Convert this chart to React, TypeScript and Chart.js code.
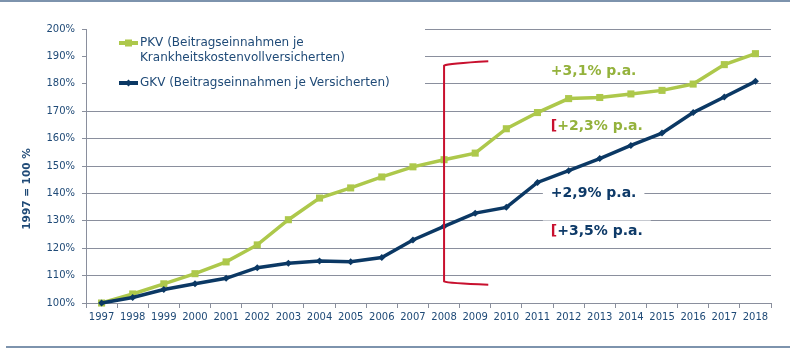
import React, { useEffect, useRef } from "react";
import { Chart, registerables } from "chart.js";

Chart.register(...registerables);

const YEARS = ["1997","1998","1999","2000","2001","2002","2003","2004","2005","2006","2007","2008","2009","2010","2011","2012","2013","2014","2015","2016","2017","2018"];
const PKV = [100,103.3,107,110.7,115,121.2,130.4,138.3,142,146,149.7,152.3,154.7,163.6,169.5,174.6,175,176.3,177.6,179.9,187,191];
const GKV = [100,102,104.9,107,109,112.9,114.5,115.3,115.1,116.6,123,128,132.8,134.9,144,148.3,152.7,157.5,162,169.5,175.2,180.9];
const Y_MIN = 100;
const Y_MAX = 200;
const Y_STEP = 10;
const PKV_LABEL = ["PKV (Beitragseinnahmen je", "Krankheitskostenvollversicherten)"];
const GKV_LABEL = ["GKV (Beitragseinnahmen je Versicherten)"];
const Y_TITLE = "1997 = 100 %";
// growth annotations: text, series, with bracket prefix, value (y), boxed
const ANNOT_TEXT = ["+3,1% p.a.", "+2,3% p.a.", "+2,9% p.a.", "+3,5% p.a."];
const ANNOT_SERIES = ["PKV", "PKV", "GKV", "GKV"];
const ANNOT_BRACKET = [false, true, false, true];
const ANNOT_VALUE = [184.4, 164.3, 139.9, 126.1];
const ANNOT_BOXED = [false, false, true, true];
const ANNOT_INDEX = 14.43;
// red bracket marking period from 2008
const BRACKET_YEAR = "2008";
const BRACKET_TOP = [187, 188.2];
const BRACKET_BOTTOM = [107.5, 106.7];
const BRACKET_ARM = 1.42;

const FONT = "'DejaVu Sans', Verdana, sans-serif";
const GREEN = "#adc84b";
const GREEN_TEXT = "#94b23c";
const NAVY = "#0b3864";
const NAVY_TEXT = "#0e3a68";
const RED = "#c8102e";
const GRID = "#8a8f9d";
const TICK = "#1f4a77";
const RULE = "#7d93ad";

const overlay = {
  id: "overlay",
  beforeDatasetsDraw(chart: any) {
    const { ctx, chartArea } = chart;
    const x = chart.scales.x;
    const y = chart.scales.y;
    ctx.save();
    ctx.fillStyle = "#ffffff";
    // legend background
    ctx.fillRect(chartArea.left + 1, chartArea.top - 6, 339 - 1, 76);
    ctx.font = `bold 14px ${FONT}`;
    for (let i = 0; i < ANNOT_TEXT.length; i++) {
      if (!ANNOT_BOXED[i]) continue;
      const full = (ANNOT_BRACKET[i] ? "[" : "") + ANNOT_TEXT[i];
      const w = ctx.measureText(full).width;
      const lx = x.getPixelForValue(ANNOT_INDEX);
      const cy = y.getPixelForValue(ANNOT_VALUE[i]);
      ctx.fillRect(lx - 8, cy - 11, w + 16, 21);
    }
    ctx.restore();
  },
  afterDatasetsDraw(chart: any) {
    const { ctx, chartArea } = chart;
    const x = chart.scales.x;
    const y = chart.scales.y;
    ctx.save();
    // bracket
    const bi = YEARS.indexOf(BRACKET_YEAR);
    const bx = x.getPixelForValue(bi);
    const bxe = x.getPixelForValue(bi + BRACKET_ARM);
    const yt0 = y.getPixelForValue(BRACKET_TOP[0]);
    const yt1 = y.getPixelForValue(BRACKET_TOP[1]);
    const yb0 = y.getPixelForValue(BRACKET_BOTTOM[0]);
    const yb1 = y.getPixelForValue(BRACKET_BOTTOM[1]);
    ctx.strokeStyle = RED;
    ctx.lineWidth = 2;
    ctx.lineJoin = "round";
    ctx.beginPath();
    ctx.moveTo(bxe, yt1);
    ctx.quadraticCurveTo(bx + 4, yt0 - 1, bx, yt0 + 1);
    ctx.lineTo(bx, yb0 - 1);
    ctx.quadraticCurveTo(bx + 4, yb0 + 1, bxe, yb1);
    ctx.stroke();

    // annotations
    ctx.font = `bold 14px ${FONT}`;
    ctx.textBaseline = "middle";
    ctx.textAlign = "left";
    for (let i = 0; i < ANNOT_TEXT.length; i++) {
      let lx = x.getPixelForValue(ANNOT_INDEX);
      const cy = y.getPixelForValue(ANNOT_VALUE[i]);
      if (ANNOT_BRACKET[i]) {
        ctx.fillStyle = RED;
        ctx.fillText("[", lx, cy);
        lx += ctx.measureText("[").width;
      }
      ctx.fillStyle = ANNOT_SERIES[i] === "PKV" ? GREEN_TEXT : NAVY_TEXT;
      ctx.fillText(ANNOT_TEXT[i], lx, cy);
    }

    // legend
    const lx0 = chartArea.left + 33;
    const lx1 = chartArea.left + 52;
    const entries = [
      { lines: PKV_LABEL, color: GREEN, style: "rect", y: chartArea.top + 14 },
      { lines: GKV_LABEL, color: NAVY, style: "diamond", y: chartArea.top + 54 },
    ];
    ctx.font = `12px ${FONT}`;
    for (const e of entries) {
      ctx.strokeStyle = e.color;
      ctx.fillStyle = e.color;
      ctx.lineWidth = 4;
      ctx.lineCap = "butt";
      ctx.beginPath();
      ctx.moveTo(lx0, e.y);
      ctx.lineTo(lx1, e.y);
      ctx.stroke();
      const mx = (lx0 + lx1) / 2;
      if (e.style === "rect") {
        ctx.fillRect(mx - 3.5, e.y - 3.5, 7, 7);
      } else {
        ctx.beginPath();
        ctx.moveTo(mx, e.y - 3.5);
        ctx.lineTo(mx + 3.5, e.y);
        ctx.lineTo(mx, e.y + 3.5);
        ctx.lineTo(mx - 3.5, e.y);
        ctx.closePath();
        ctx.fill();
      }
      ctx.fillStyle = TICK;
      e.lines.forEach((t, k) => ctx.fillText(t, lx1 + 2, e.y + k * 15));
    }

    // y title
    ctx.save();
    ctx.translate(27, chartArea.top + 160);
    ctx.rotate(-Math.PI / 2);
    ctx.font = `bold 10.5px ${FONT}`;
    ctx.fillStyle = TICK;
    ctx.textAlign = "center";
    ctx.textBaseline = "middle";
    ctx.fillText(Y_TITLE, 0, 0);
    ctx.restore();

    ctx.restore();
  },
  afterDraw(chart: any) {
    const { ctx, width } = chart;
    ctx.save();
    ctx.fillStyle = RULE;
    ctx.fillRect(0, 0, width, 2);
    ctx.fillRect(6, 346, width - 6, 2);
    ctx.restore();
  },
};

export default function App() {
  const ref = useRef<HTMLCanvasElement>(null);
  useEffect(() => {
    const chart = new Chart(ref.current as HTMLCanvasElement, {
      type: "line",
      data: {
        labels: YEARS,
        datasets: [
          {
            label: "PKV",
            data: PKV,
            borderColor: GREEN,
            backgroundColor: GREEN,
            borderWidth: 3.5,
            pointStyle: "rect",
            pointRadius: 5,
            pointBorderWidth: 0,
            tension: 0,
            clip: false as any,
            order: 1,
          },
          {
            label: "GKV",
            data: GKV,
            borderColor: NAVY,
            backgroundColor: NAVY,
            borderWidth: 3.5,
            pointStyle: "rectRot",
            pointRadius: 3.5,
            pointBorderWidth: 0,
            tension: 0,
            clip: false as any,
            order: 0,
          },
        ],
      },
      options: {
        responsive: false,
        animation: false,
        devicePixelRatio: 1,
        layout: { padding: { top: 29, right: 19, left: 0, bottom: 0 } },
        plugins: { legend: { display: false }, tooltip: { enabled: false } },
        scales: {
          x: {
            offset: true,
            grid: { offset: true, drawOnChartArea: false, tickLength: 5, color: GRID },
            border: { color: GRID },
            ticks: { font: { family: FONT, size: 10 }, color: TICK, padding: 3, maxRotation: 0, autoSkip: false },
            afterFit: (s: any) => { s.height = 48; },
          },
          y: {
            min: Y_MIN,
            max: Y_MAX,
            grid: { color: GRID, tickLength: 4 },
            border: { color: GRID },
            ticks: {
              stepSize: Y_STEP,
              font: { family: FONT, size: 10 },
              color: TICK,
              padding: 7,
              callback: (v: any) => `${v}%`,
            },
            afterFit: (s: any) => { s.width = 86; },
          },
        },
      },
      plugins: [overlay],
    });
    return () => chart.destroy();
  }, []);
  return (
    <div style={{ position: "fixed", left: 0, top: 0, width: 790, height: 351, background: "#fff" }}>
      <canvas ref={ref} width={790} height={351} style={{ display: "block", width: 790, height: 351 }} />
    </div>
  );
}
